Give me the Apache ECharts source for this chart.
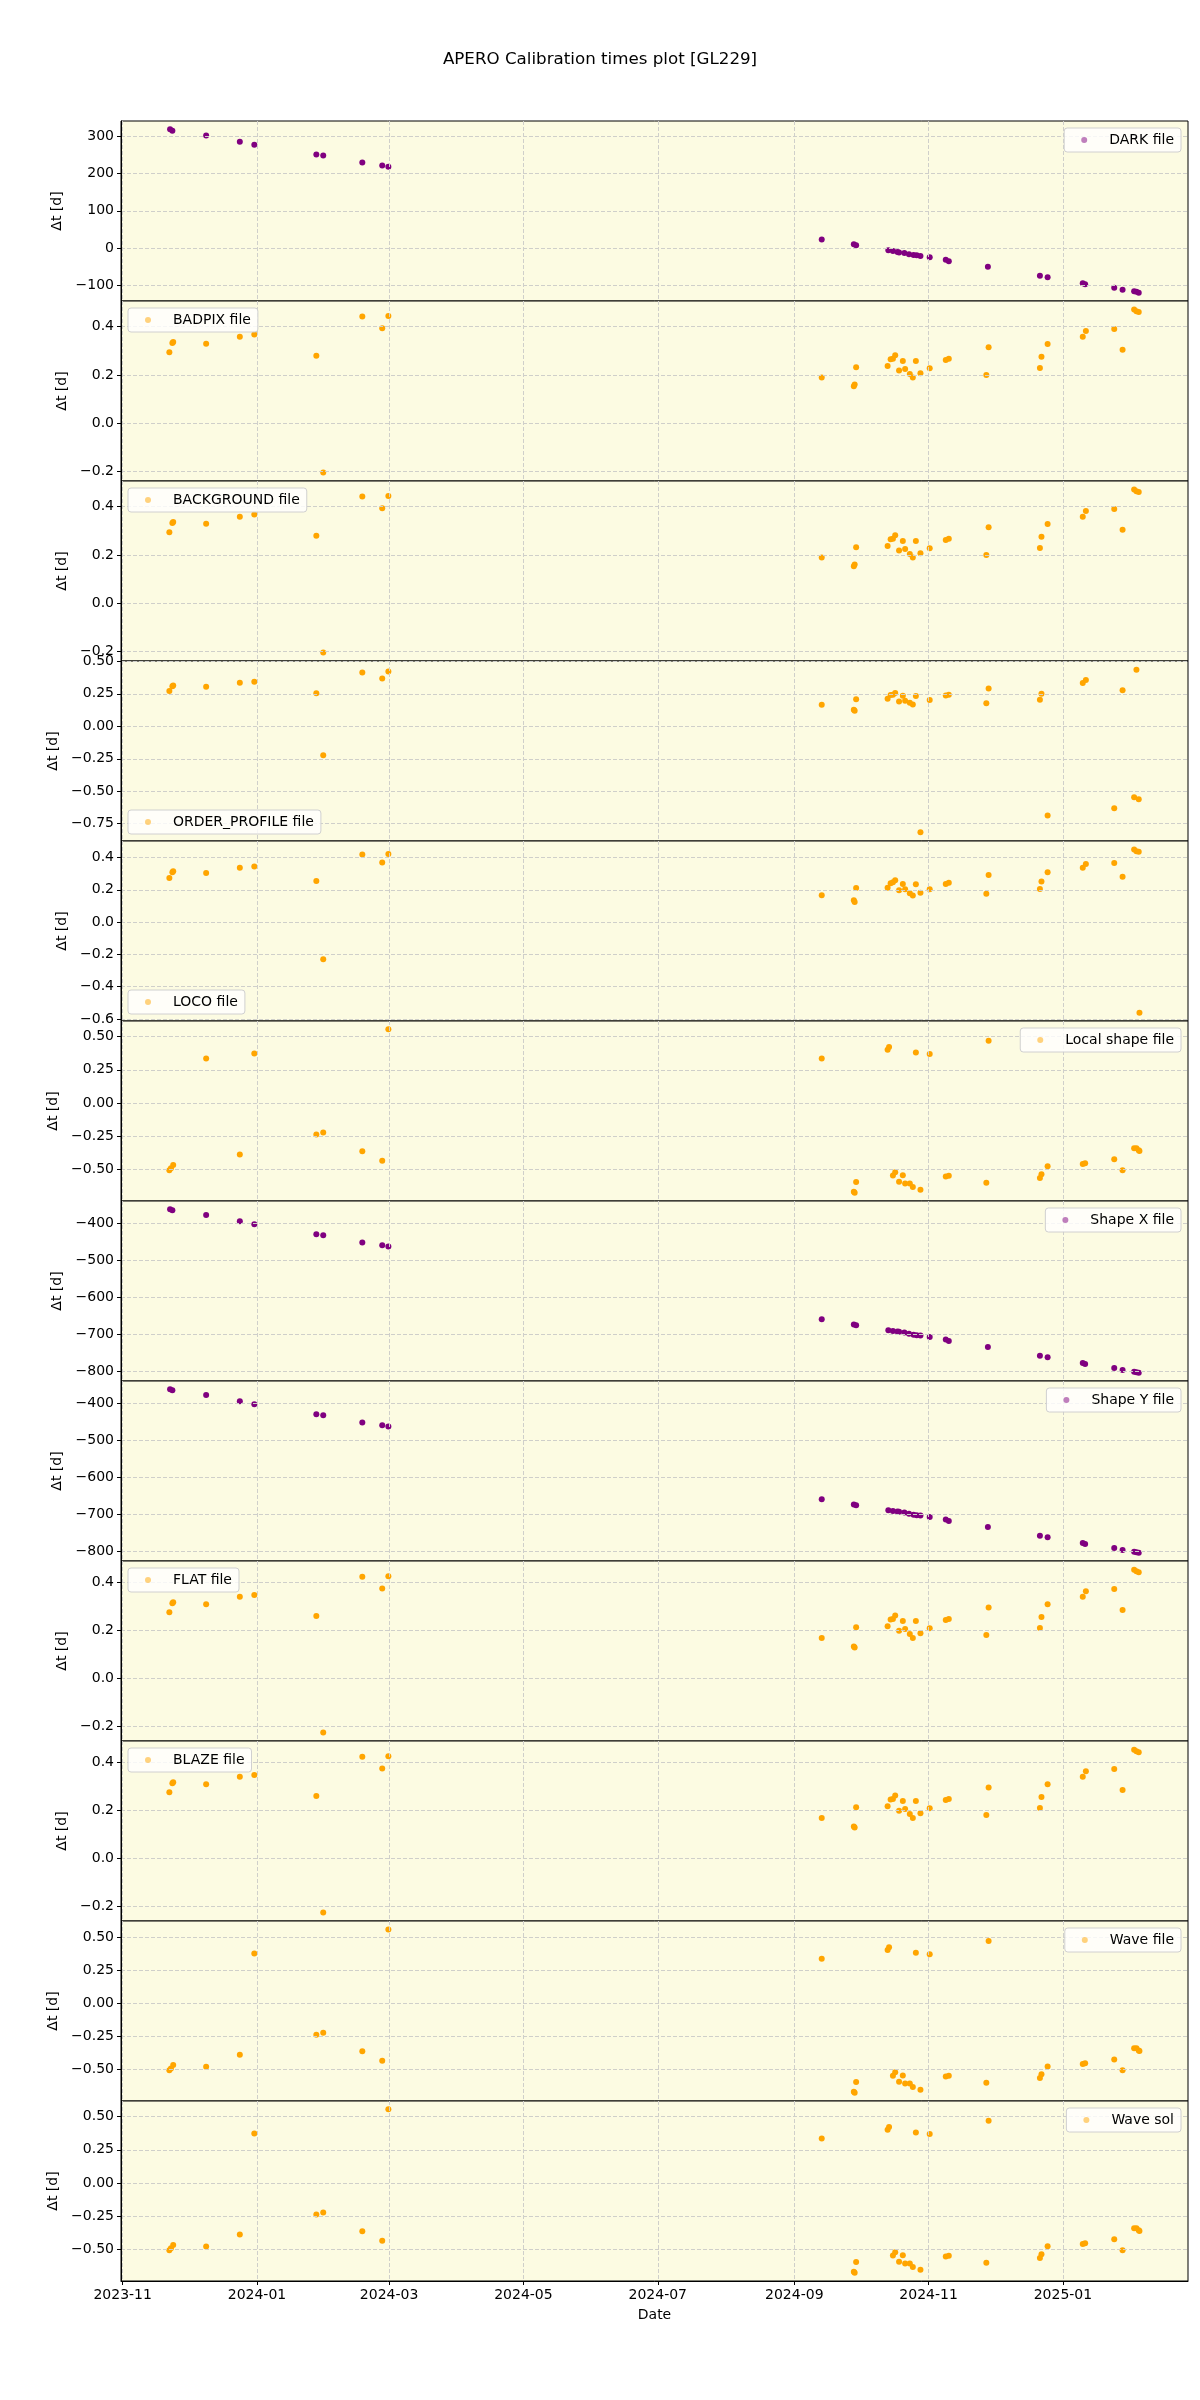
<!DOCTYPE html>
<html>
<head>
<meta charset="utf-8">
<script src="https://cdn.jsdelivr.net/npm/echarts@6/dist/echarts.min.js"></script>
<style>
  html, body { margin: 0; padding: 0; background: #ffffff; }
  #chart { width: 1200px; height: 2400px; }
</style>
</head>
<body>
<div id="chart"></div>
<script>
// observation dates (purple panels: DARK, Shape X, Shape Y)
var purpleDates = [
  '2023-11-22 13:00', '2023-11-23 14:00', '2023-12-08 22:00', '2023-12-24 05:00', '2023-12-30 19:00',
  '2024-01-27 23:00', '2024-01-31 02:00', '2024-02-17 20:00', '2024-02-26 21:00', '2024-02-29 16:00',
  '2024-09-13 11:00', '2024-09-28 01:00', '2024-09-29 02:00', '2024-10-13 17:00', '2024-10-15 19:00',
  '2024-10-17 21:00', '2024-10-18 14:00', '2024-10-21 00:00', '2024-10-23 02:00', '2024-10-25 04:00',
  '2024-10-26 14:00', '2024-10-28 07:00', '2024-11-01 12:00', '2024-11-08 19:00', '2024-11-10 04:00',
  '2024-11-27 22:00', '2024-12-21 13:00', '2024-12-25 01:00', '2025-01-10 00:00', '2025-01-11 02:00',
  '2025-01-24 07:00', '2025-01-28 02:00', '2025-02-02 08:00', '2025-02-03 09:00', '2025-02-04 10:00'
];
var darkVals = [320, 316, 303, 286, 278, 252, 249, 230, 222, 219, 23, 10, 7, -6, -8, -11, -12, -14, -17, -19,
  -20, -22, -25, -32, -36, -51, -75, -79, -95, -98, -107, -113, -117, -118, -121];
var shapeXVals = [-361, -364, -377, -394, -402, -429, -432, -451, -459, -462, -659, -673, -675, -689, -691, -692,
  -693, -695, -698, -701, -702, -703, -707, -714, -718, -734, -758, -762, -777, -780, -791, -796, -801, -802, -804];
var shapeYVals = [-361, -364, -377, -394, -402, -429, -432, -451, -459, -462, -659, -673, -675, -689, -691, -692,
  -693, -695, -698, -701, -702, -703, -707, -714, -718, -734, -758, -762, -777, -780, -791, -796, -801, -802, -804];

// observation dates (BADPIX, BACKGROUND, ORDER_PROFILE, LOCO, FLAT, BLAZE)
var orangeDates = [
  '2023-11-22 05:00', '2023-11-23 14:00', '2023-11-23 23:00', '2023-12-08 22:00', '2023-12-24 05:00',
  '2023-12-30 19:00', '2024-01-27 23:00', '2024-01-31 02:00', '2024-02-17 20:00', '2024-02-26 21:00',
  '2024-02-29 16:00', '2024-09-13 11:00', '2024-09-28 01:00', '2024-09-28 10:00', '2024-09-29 02:00',
  '2024-10-13 09:00', '2024-10-14 18:00', '2024-10-15 19:00', '2024-10-16 20:00', '2024-10-18 14:00',
  '2024-10-20 07:00', '2024-10-21 08:00', '2024-10-23 11:00', '2024-10-24 20:00', '2024-10-26 05:00',
  '2024-10-28 07:00', '2024-11-01 12:00', '2024-11-08 19:00', '2024-11-10 04:00', '2024-11-27 05:00',
  '2024-11-28 06:00', '2024-12-21 13:00', '2024-12-22 06:00', '2024-12-25 01:00', '2025-01-10 00:00',
  '2025-01-11 10:00', '2025-01-24 07:00', '2025-01-28 02:00', '2025-02-02 08:00', '2025-02-03 09:00',
  '2025-02-04 10:00'
];
var badpixVals = [0.294, 0.332, 0.336, 0.329, 0.358, 0.367, 0.279, -0.204, 0.442, 0.393, 0.444, 0.189, 0.153,
  0.160, 0.232, 0.237, 0.265, 0.267, 0.281, 0.218, 0.258, 0.225, 0.204, 0.189, 0.258, 0.207, 0.228, 0.262, 0.267,
  0.200, 0.315, 0.229, 0.275, 0.328, 0.358, 0.382, 0.390, 0.304, 0.471, 0.464, 0.460];
var backgroundVals = [0.294, 0.332, 0.336, 0.329, 0.358, 0.367, 0.279, -0.204, 0.442, 0.393, 0.444, 0.189, 0.153,
  0.160, 0.232, 0.237, 0.265, 0.267, 0.281, 0.218, 0.258, 0.225, 0.204, 0.189, 0.258, 0.207, 0.228, 0.262, 0.267,
  0.200, 0.315, 0.229, 0.275, 0.328, 0.358, 0.382, 0.390, 0.304, 0.471, 0.464, 0.460];
var orderProfileVals = [0.272, 0.308, 0.315, 0.305, 0.336, 0.344, 0.254, -0.223, 0.415, 0.369, 0.423, 0.167, 0.128,
  0.120, 0.208, 0.213, 0.241, 0.244, 0.256, 0.192, 0.236, 0.197, 0.182, 0.169, 0.233, -0.815, 0.203, 0.238, 0.244,
  0.177, 0.292, 0.205, 0.251, -0.687, 0.333, 0.356, -0.631, 0.277, -0.546, 0.436, -0.562];
var locoVals = [0.273, 0.308, 0.315, 0.304, 0.337, 0.344, 0.255, -0.230, 0.418, 0.369, 0.422, 0.166, 0.135,
  0.124, 0.211, 0.213, 0.240, 0.246, 0.259, 0.197, 0.236, 0.203, 0.178, 0.164, 0.234, 0.182, 0.203, 0.236, 0.244,
  0.176, 0.292, 0.205, 0.251, 0.308, 0.337, 0.360, 0.366, 0.280, 0.449, 0.439, 0.435];
var locoExtraDates = ['2025-02-04 18:00'];
var locoExtraVals = [-0.561];
var flatVals = [0.274, 0.311, 0.315, 0.307, 0.338, 0.346, 0.258, -0.227, 0.421, 0.373, 0.424, 0.167, 0.131,
  0.127, 0.211, 0.216, 0.244, 0.246, 0.260, 0.197, 0.237, 0.204, 0.183, 0.167, 0.237, 0.186, 0.207, 0.241, 0.246,
  0.179, 0.294, 0.208, 0.254, 0.307, 0.338, 0.361, 0.370, 0.283, 0.451, 0.444, 0.440];
var blazeVals = [0.274, 0.311, 0.315, 0.307, 0.338, 0.346, 0.258, -0.227, 0.421, 0.373, 0.424, 0.167, 0.131,
  0.127, 0.211, 0.216, 0.244, 0.246, 0.260, 0.197, 0.237, 0.204, 0.183, 0.167, 0.237, 0.186, 0.207, 0.241, 0.246,
  0.179, 0.294, 0.208, 0.254, 0.307, 0.338, 0.361, 0.370, 0.283, 0.451, 0.444, 0.440];

// observation dates (Local shape, Wave file, Wave sol)
var waveDates = [
  '2023-11-22 05:00', '2023-11-22 22:00', '2023-11-23 23:00', '2023-12-08 22:00', '2023-12-24 05:00',
  '2023-12-30 19:00', '2024-01-27 23:00', '2024-01-31 02:00', '2024-02-17 20:00', '2024-02-26 21:00',
  '2024-02-29 16:00', '2024-09-13 11:00', '2024-09-28 01:00', '2024-09-28 10:00', '2024-09-29 02:00',
  '2024-10-13 09:00', '2024-10-14 01:00', '2024-10-15 19:00', '2024-10-16 20:00', '2024-10-18 14:00',
  '2024-10-20 07:00', '2024-10-21 08:00', '2024-10-23 11:00', '2024-10-24 20:00', '2024-10-26 05:00',
  '2024-10-28 07:00', '2024-11-01 12:00', '2024-11-08 19:00', '2024-11-10 04:00', '2024-11-27 05:00',
  '2024-11-28 06:00', '2024-12-21 13:00', '2024-12-22 06:00', '2024-12-25 01:00', '2025-01-10 00:00',
  '2025-01-11 02:00', '2025-01-24 07:00', '2025-01-28 02:00', '2025-02-02 08:00', '2025-02-03 09:00',
  '2025-02-04 10:00', '2025-02-04 18:00'
];
var localShapeVals = [-0.510, -0.495, -0.470, 0.336, -0.391, 0.374, -0.240, -0.225, -0.366, -0.437, 0.556, 0.336,
  -0.672, -0.679, -0.598, 0.402, 0.422, -0.550, -0.525, -0.596, -0.548, -0.609, -0.609, -0.636, 0.381, -0.657,
  0.369, -0.556, -0.551, -0.604, 0.470, -0.568, -0.540, -0.480, -0.462, -0.457, -0.427, -0.510, -0.343, -0.343,
  -0.359, -0.364];
var waveFileVals = [-0.510, -0.495, -0.470, -0.482, -0.391, 0.374, -0.240, -0.225, -0.366, -0.437, 0.556, 0.336,
  -0.672, -0.679, -0.598, 0.402, 0.422, -0.550, -0.525, -0.596, -0.548, -0.609, -0.609, -0.636, 0.381, -0.657,
  0.369, -0.556, -0.551, -0.604, 0.470, -0.568, -0.540, -0.480, -0.462, -0.457, -0.427, -0.510, -0.343, -0.343,
  -0.359, -0.364];
var waveSolVals = [-0.510, -0.495, -0.470, -0.482, -0.391, 0.374, -0.240, -0.225, -0.366, -0.437, 0.556, 0.336,
  -0.672, -0.679, -0.598, 0.402, 0.422, -0.550, -0.525, -0.596, -0.548, -0.609, -0.609, -0.636, 0.381, -0.657,
  0.369, -0.556, -0.551, -0.604, 0.470, -0.568, -0.540, -0.480, -0.462, -0.457, -0.427, -0.510, -0.343, -0.343,
  -0.359, -0.364];

// tick labels
var dateTicks = ['2023-11-01', '2024-01-01', '2024-03-01', '2024-05-01', '2024-07-01', '2024-09-01', '2024-11-01', '2025-01-01'];
var darkTicks = [-100, 0, 100, 200, 300];
var smallTicks = [-0.2, 0, 0.2, 0.4];
var orderTicks = [-0.75, -0.5, -0.25, 0, 0.25, 0.5];
var locoTicks = [-0.6, -0.4, -0.2, 0, 0.2, 0.4];
var waveTicks = [-0.5, -0.25, 0, 0.25, 0.5];
var shapeTicks = [-800, -700, -600, -500, -400];

function ts(s) {
  var p = s.split(/[- :]/);
  return new Date(+p[0], p[1] - 1, +p[2], +(p[3] || 0), +(p[4] || 0)).getTime();
}
function pairs(dates, vals) {
  return dates.map(function (d, i) { return [ts(d), vals[i]]; });
}

var PURPLE = '#800080', ORANGE = '#ffa500';
var panels = [
  { name: 'DARK file', data: pairs(purpleDates, darkVals), color: PURPLE, min: -143, max: 342, ticks: darkTicks, dec: 0, legend: 'ur', gap: 57 },
  { name: 'BADPIX file', data: pairs(orangeDates, badpixVals), color: ORANGE, min: -0.239, max: 0.506, ticks: smallTicks, dec: 1, legend: 'ul', gap: 51 },
  { name: 'BACKGROUND file', data: pairs(orangeDates, backgroundVals), color: ORANGE, min: -0.239, max: 0.506, ticks: smallTicks, dec: 1, legend: 'ul', gap: 51 },
  { name: 'ORDER_PROFILE file', data: pairs(orangeDates, orderProfileVals), color: ORANGE, min: -0.883, max: 0.503, ticks: orderTicks, dec: 2, legend: 'll', gap: 61 },
  { name: 'LOCO file', data: pairs(orangeDates, locoVals).concat(pairs(locoExtraDates, locoExtraVals)), color: ORANGE, min: -0.612, max: 0.502, ticks: locoTicks, dec: 1, legend: 'll', gap: 51 },
  { name: 'Local shape file', data: pairs(waveDates, localShapeVals), color: ORANGE, min: -0.742, max: 0.619, ticks: waveTicks, dec: 2, legend: 'ur', gap: 61 },
  { name: 'Shape X file', data: pairs(purpleDates, shapeXVals), color: PURPLE, min: -826, max: -339, ticks: shapeTicks, dec: 0, legend: 'ur', gap: 56 },
  { name: 'Shape Y file', data: pairs(purpleDates, shapeYVals), color: PURPLE, min: -826, max: -339, ticks: shapeTicks, dec: 0, legend: 'ur', gap: 56 },
  { name: 'FLAT file', data: pairs(orangeDates, flatVals), color: ORANGE, min: -0.262, max: 0.487, ticks: smallTicks, dec: 1, legend: 'ul', gap: 51 },
  { name: 'BLAZE file', data: pairs(orangeDates, blazeVals), color: ORANGE, min: -0.262, max: 0.487, ticks: smallTicks, dec: 1, legend: 'ul', gap: 51 },
  { name: 'Wave file', data: pairs(waveDates, waveFileVals), color: ORANGE, min: -0.742, max: 0.621, ticks: waveTicks, dec: 2, legend: 'ur', gap: 61 },
  { name: 'Wave sol', data: pairs(waveDates, waveSolVals), color: ORANGE, min: -0.742, max: 0.619, ticks: waveTicks, dec: 2, legend: 'ur', gap: 61 }
];

var FONT = 'DejaVu Sans';
var LEFT = 121, TOP = 121, W = 1067, H = 180;
var xMin = ts('2023-10-31 06:00'), xMax = ts('2025-02-26 19:00');
var xTickVals = dateTicks.map(ts);
var gridDash = { color: '#cfcfca', width: 1, type: [4, 2] };

function pad2(n) { return (n < 10 ? '0' : '') + n; }
function fmtNum(dec) {
  return function (v) {
    var s = Math.abs(v).toFixed(dec);
    return (v < 0 && +s !== 0 ? '\u2212' : '') + s;
  };
}

var grids = [], xAxes = [], yAxes = [], series = [], legends = [];
panels.forEach(function (p, i) {
  var top = TOP + H * i;
  var last = i === panels.length - 1;
  grids.push({
    left: LEFT, top: top, width: W, height: H,
    show: true, backgroundColor: '#fcfbe2', borderColor: '#000', borderWidth: 1
  });
  xAxes.push({
    type: 'value', gridIndex: i, min: xMin, max: xMax, z: 3,
    name: last ? 'Date' : '', nameLocation: 'middle', nameGap: 27,
    nameTextStyle: { fontFamily: FONT, fontSize: 14, color: '#000' },
    axisLine: { show: last, onZero: false, lineStyle: { color: '#000' } },
    axisTick: { show: last, length: 4, customValues: xTickVals, lineStyle: { color: '#000' } },
    axisLabel: {
      show: last, margin: 7, customValues: xTickVals,
      fontFamily: FONT, fontSize: 14, color: '#000',
      formatter: function (v) { var d = new Date(v); return d.getFullYear() + '-' + pad2(d.getMonth() + 1); }
    },
    splitLine: { show: true, lineStyle: gridDash }
  });
  yAxes.push({
    type: 'value', gridIndex: i, min: p.min, max: p.max, z: 3,
    name: '\u0394t [d]', nameLocation: 'middle', nameGap: p.gap, nameRotate: 90,
    nameTextStyle: { fontFamily: FONT, fontSize: 14, color: '#000' },
    axisLine: { show: true, onZero: false, lineStyle: { color: '#000' } },
    axisTick: { show: true, length: 4, customValues: p.ticks, lineStyle: { color: '#000' } },
    axisLabel: {
      margin: 7, customValues: p.ticks, fontFamily: FONT, fontSize: 14, color: '#000',
      hideOverlap: false, formatter: fmtNum(p.dec)
    },
    splitLine: { show: true, lineStyle: gridDash }
  });
  series.push({
    name: p.name, type: 'scatter', xAxisIndex: i, yAxisIndex: i,
    data: p.data, symbol: 'circle', symbolSize: 6,
    itemStyle: { color: p.color, opacity: 1 }, clip: true
  });
  var lg = {
    data: [{ name: p.name, itemStyle: { opacity: 0.5 } }],
    icon: 'circle', itemWidth: 6, itemHeight: 6,
    padding: [5, 7, 5, 17], backgroundColor: 'rgba(255,255,255,0.8)',
    borderColor: '#d0d0d0', borderWidth: 1, borderRadius: 3,
    textStyle: { fontFamily: FONT, fontSize: 14, color: '#000', padding: [0, 0, 0, 17] },
    selectedMode: false, z: 6
  };
  if (p.legend === 'ur') { lg.right = 1200 - LEFT - W + 7; lg.top = top + 7; }
  else if (p.legend === 'ul') { lg.left = LEFT + 7; lg.top = top + 7; }
  else { lg.left = LEFT + 7; lg.top = top + H - 31; }
  legends.push(lg);
});

var myChart = echarts.init(document.getElementById('chart'), null, { renderer: 'canvas' });
myChart.setOption({
  animation: false,
  backgroundColor: '#ffffff',
  title: {
    text: 'APERO Calibration times plot [GL229]', left: 'center', top: 46,
    textStyle: { fontFamily: FONT, fontSize: 16.7, fontWeight: 'normal', color: '#000' }
  },
  legend: legends,
  grid: grids,
  xAxis: xAxes,
  yAxis: yAxes,
  series: series
});
</script>
</body>
</html>
